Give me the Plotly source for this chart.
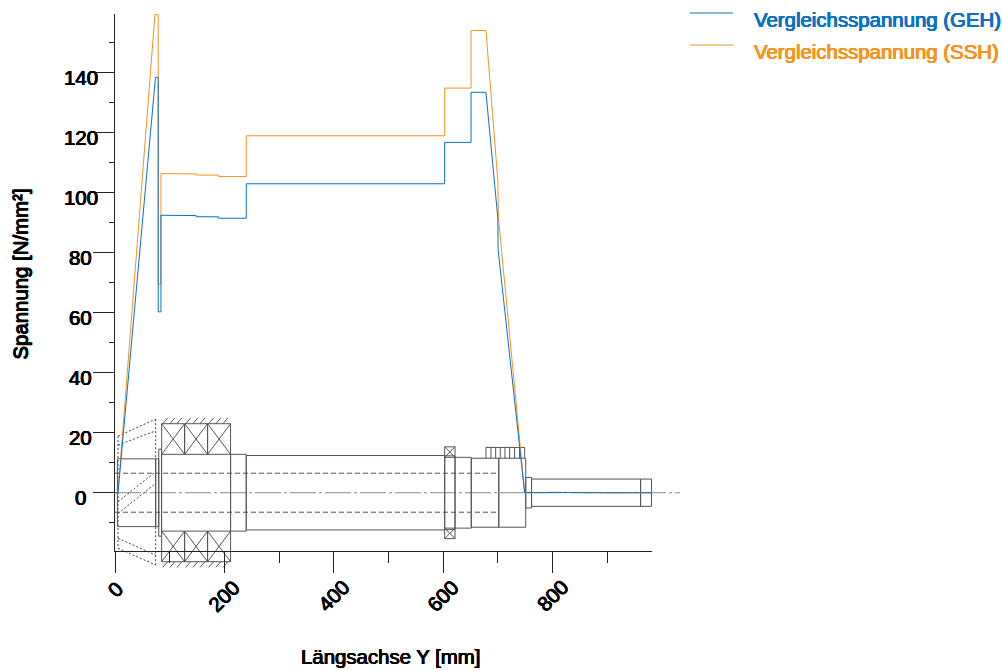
import plotly.graph_objects as go

# ---- stress curves (Längsachse Y [mm], Spannung [N/mm²]) ----
geh_x = [0, 5.5, 74, 79, 79, 84, 84, 148.6, 148.6, 189.5, 189.5, 240, 240, 602.7, 602.7, 651, 651, 678.3, 700, 700.5, 749, 800, 900, 981]
geh_y = [0, 0, 138.5, 138.5, 60.3, 60.3, 92.5, 92.4, 92.0, 92.0, 91.5, 91.5, 103.0, 103.0, 116.8, 116.8, 133.5, 133.5, 91.5, 81, 0, 0.1, 0, 0]
ssh_x = [0, 5.5, 73, 79, 79, 84, 84, 148.6, 148.6, 189.5, 189.5, 240, 240, 602.7, 602.7, 651, 651, 678.3, 700, 701, 749, 800, 900, 981]
ssh_y = [0, 0, 159.4, 159.4, 69.6, 69.6, 106.4, 106.3, 105.9, 105.9, 105.4, 105.4, 119, 119, 134.9, 134.9, 154.1, 154.1, 104, 92, 0, 0.1, 0, 0]

# ---- shaft sketch: sections as (x start, x end, half height) ----
shaft_sections = [
    (4.4, 74.3, 11.3), (74.3, 80, 11.3), (80, 85, 14.5), (85.3, 211.3, 12.8),
    (211.3, 240, 12.8), (240, 602.8, 12.4), (602.8, 621.7, 12.3), (621.7, 651.4, 11.8),
    (651.4, 701.7, 11.5), (701.7, 751, 11.5), (751, 761.6, 5.1), (761.6, 961, 4.55), (961, 981, 4.55),
]
roller_edges = [85.3, 127.3, 169.3, 211.3]
roller_inner, roller_outer, hatch_tip = 12.8, 23.0, 24.9
hatch_offsets = [2, 15, 28]
hatch_dx = 9
small_bearing = (602.8, 621.7, 11.8, 15.3)
spline_edges = [678.3, 687.4, 696, 704.5, 713, 721.5, 730.7, 739.8, 749]
spline_inner, spline_outer = 11.5, 15.1
bore_x = (0, 701.7)
bore_half = 6.5
center_x = (0, 1033)
cone_lines = [
    (5.5, 18.9, 74.3, 24.5), (5.5, 15.9, 74.3, 20.6), (5.5, -15.2, 74.3, -20.8),
    (5.5, -18.5, 74.3, -24.1), (5.5, -3, 74.3, 7), (5.5, -6.9, 74.3, 3.1),
    (5.5, 18.9, 5.5, -18.5), (74.3, 24.5, 74.3, -24.1),
]

# ---- labels ----
y_tick_vals = [0, 20, 40, 60, 80, 100, 120, 140]
x_tick_vals = [0, 200, 400, 600, 800]
legend_names = ["Vergleichsspannung (GEH)", "Vergleichsspannung (SSH)"]
x_title = "Längsachse Y [mm]"
y_title = "Spannung [N/mm²]"

BLUE, ORANGE = "#0b72c4", "#f7941d"
GREY, AXIS = "#555555", "#222222"
FONT = "Liberation Sans"
W, H = 1002, 670
L, R, T, B = 114.5, 651.5, 14, 551      # visible axes box
R2, B2 = 690, 580                   # larger box the sketch may use
X_RANGE = [0, 981]
Y_RANGE = [-19.43, 159.6]
ux = (X_RANGE[1] - X_RANGE[0]) / (R - L)
uy = (Y_RANGE[1] - Y_RANGE[0]) / (B - T)
SK_X = [0, (R2 - L) * ux]
SK_Y = [Y_RANGE[0] - (B2 - B) * uy, Y_RANGE[1]]

solid_x, solid_y = [], []
def seg(x0, y0, x1, y1, xs=solid_x, ys=solid_y):
    xs += [x0, x1, None]
    ys += [y0, y1, None]

for x0, x1, h in shaft_sections:
    seg(x0, h, x1, h); seg(x0, -h, x1, -h); seg(x0, h, x0, -h); seg(x1, h, x1, -h)
for sign in (1, -1):
    for a, b in zip(roller_edges[:-1], roller_edges[1:]):
        seg(a, sign * roller_inner, a, sign * roller_outer)
        seg(b, sign * roller_inner, b, sign * roller_outer)
        seg(a, sign * roller_outer, b, sign * roller_outer)
        seg(a, sign * roller_inner, b, sign * roller_outer)
        seg(a, sign * roller_outer, b, sign * roller_inner)
        for off in hatch_offsets:
            if sign > 0:
                seg(a + off, roller_outer, a + off + hatch_dx, hatch_tip)
            else:
                seg(a + off, -hatch_tip, a + off + hatch_dx, -roller_outer)
    a, b, i, o = small_bearing
    seg(a, sign * i, b, sign * i); seg(a, sign * o, b, sign * o)
    seg(a, sign * i, a, sign * o); seg(b, sign * i, b, sign * o)
    seg(a, sign * i, b, sign * o); seg(a, sign * o, b, sign * i)
for e in spline_edges:
    seg(e, spline_inner, e, spline_outer)
seg(spline_edges[0], spline_outer, spline_edges[-1], spline_outer)

dot_x, dot_y = [], []
for x0, y0, x1, y1 in cone_lines:
    seg(x0, y0, x1, y1, dot_x, dot_y)

dash_x, dash_y = [], []
seg(bore_x[0], bore_half, bore_x[1], bore_half, dash_x, dash_y)
seg(bore_x[0], -bore_half, bore_x[1], -bore_half, dash_x, dash_y)

fig = go.Figure()
def sketch(x, y, color, dash="solid", width=1):
    fig.add_trace(go.Scatter(x=x, y=y, mode="lines", showlegend=False, hoverinfo="skip",
                             xaxis="x", yaxis="y", line=dict(color=color, width=width, dash=dash)))

sketch(list(center_x), [0, 0], "#8a8a8a", "26px,3px,3px,3px")
sketch(dot_x, dot_y, "#444444", "2px,2px")
sketch(dash_x, dash_y, GREY, "5px,3px")
sketch(solid_x, solid_y, GREY)

fig.add_trace(go.Scatter(x=ssh_x, y=ssh_y, mode="lines", name=legend_names[1], showlegend=False,
                         xaxis="x2", yaxis="y2", line=dict(color=ORANGE, width=1)))
fig.add_trace(go.Scatter(x=geh_x, y=geh_y, mode="lines", name=legend_names[0], showlegend=False,
                         xaxis="x2", yaxis="y2", line=dict(color=BLUE, width=1)))

def px_x(p): return (p - L) / (R2 - L)
def px_y(p): return (B2 - p) / (B2 - T)

annotations = []
def text(t, x, y, size=20.4, color="#000", angle=0, xref="paper", yref="paper", ax="center", ay="middle", yshift=0):
    annotations.append(dict(text=t, x=x, y=y, xref=xref, yref=yref, showarrow=False, textangle=angle,
                            xanchor=ax, yanchor=ay, yshift=yshift,
                            font=dict(family=FONT, size=size, color=color,
                                      shadow=f"0.45px 0 0 {color}, -0.45px 0 0 {color}, 0 0.3px 0 {color}, 0 -0.3px 0 {color}")))

for v in y_tick_vals:
    text(str(v), px_x(80), v, xref="paper", yref="y2", yshift=-5)
for v in x_tick_vals:
    text(str(v), v, px_y(596 if v else 590), xref="x2", yref="paper", angle=-45)
text(x_title, px_x(390), px_y(657))
text(y_title, px_x(20), px_y(274), angle=-90)
text(legend_names[0], px_x(752), px_y(20), color=BLUE, ax="left")
text(legend_names[1], px_x(752), px_y(52), color=ORANGE, ax="left")

shapes = [
    dict(type="line", xref="paper", yref="paper", x0=px_x(690), x1=px_x(733), y0=px_y(13), y1=px_y(13), line=dict(color=BLUE, width=1)),
    dict(type="line", xref="paper", yref="paper", x0=px_x(690), x1=px_x(733), y0=px_y(45), y1=px_y(45), line=dict(color=ORANGE, width=1)),
]

axis_common = dict(showgrid=False, zeroline=False, showticklabels=False, showline=True,
                   linecolor=AXIS, linewidth=1, ticks="outside", tickcolor=AXIS, tickwidth=1, ticklen=21)
fig.update_layout(
    width=W, height=H, autosize=False, showlegend=False,
    paper_bgcolor="white", plot_bgcolor="rgba(0,0,0,0)",
    margin=dict(l=L, r=W - R2, t=T, b=H - B2, pad=0),
    xaxis=dict(domain=[0, 1], range=SK_X, visible=False, anchor="y"),
    yaxis=dict(domain=[0, 1], range=SK_Y, visible=False, anchor="x"),
    xaxis2=dict(domain=[0, (R - L) / (R2 - L)], anchor="y2", range=X_RANGE, tickmode="array", tickvals=x_tick_vals,
                minor=dict(tickmode="array", tickvals=[100, 300, 500, 700, 900], ticks="outside", ticklen=11, tickcolor=AXIS, tickwidth=1),
                **axis_common),
    yaxis2=dict(domain=[(B2 - B) / (B2 - T), 1], anchor="x2", range=Y_RANGE, tickmode="array", tickvals=y_tick_vals,
                minor=dict(tickmode="array", tickvals=[-10, 10, 30, 50, 70, 90, 110, 130, 150], ticks="outside", ticklen=5, tickcolor=AXIS, tickwidth=1),
                **axis_common),
    annotations=annotations, shapes=shapes,
)
fig.write_html("out.html", post_script="document.body.style.margin='0';", config={"displayModeBar": False})
